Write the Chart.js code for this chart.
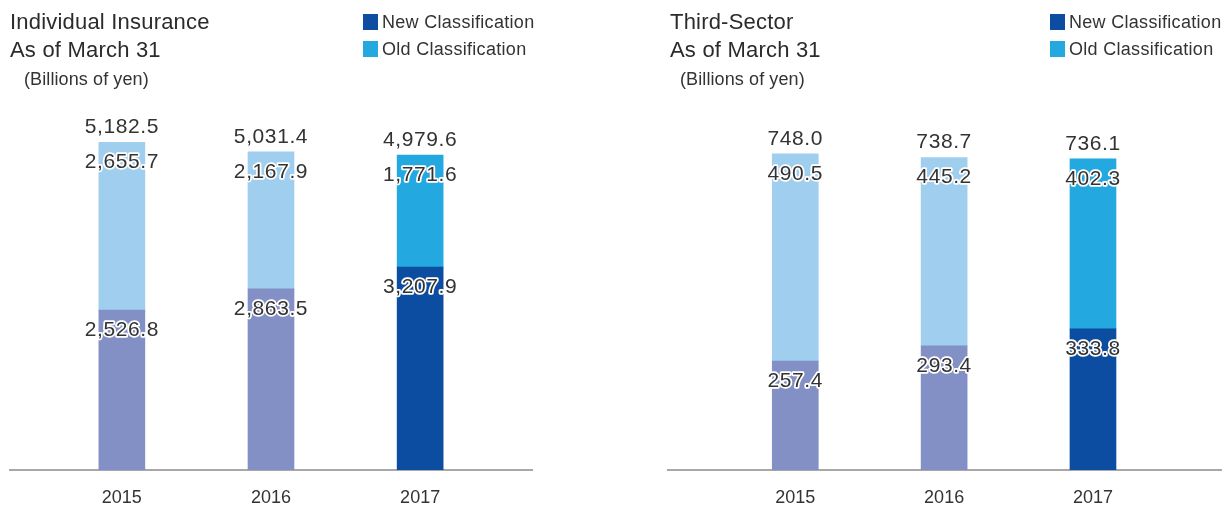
<!DOCTYPE html>
<html>
<head>
<meta charset="utf-8">
<script src="https://cdn.jsdelivr.net/npm/chart.js@4/dist/chart.umd.min.js"></script>
<style>
  html, body { margin: 0; padding: 0; background: #fff; }
  body { width: 1224px; height: 506px; position: relative; overflow: hidden;
         font-family: "Liberation Sans", Arial, sans-serif; color: #333; }
  .panel { position: absolute; top: 0; height: 506px; overflow: hidden; }
  .panel canvas { position: absolute; left: 0; top: 0; }
  .title { position: absolute; font-size: 22px; line-height: 28px; letter-spacing: 0.2px; color: #2b2b2b; white-space: nowrap; z-index: 2; }
  .unit { position: absolute; font-size: 18px; letter-spacing: 0.1px; color: #333; white-space: nowrap; z-index: 2; }
  .legend { position: absolute; font-size: 18px; letter-spacing: 0.3px; color: #333; white-space: nowrap; z-index: 2; }
  .legend div { height: 27px; line-height: 27px; position: relative; padding-left: 19px; }
  .legend span { position: absolute; left: 0; top: 5px; width: 15px; height: 16px; }
</style>
</head>
<body>
<div class="panel" id="p1" style="left:0;width:560px;">
  <div class="title" style="left:10px;top:8px;">Individual Insurance<br>As of March 31</div>
  <div class="unit" style="left:24px;top:69px;">(Billions of yen)</div>
  <div class="legend" style="left:363px;top:9px;">
    <div><span style="background:#0D4DA1"></span>New Classification</div>
    <div><span style="background:#23A8E0"></span>Old Classification</div>
  </div>
  <canvas id="c1" width="560" height="526"></canvas>
</div>
<div class="panel" id="p2" style="left:660px;width:564px;">
  <div class="title" style="left:10px;top:8px;">Third-Sector<br>As of March 31</div>
  <div class="unit" style="left:20px;top:69px;">(Billions of yen)</div>
  <div class="legend" style="left:390px;top:9px;">
    <div><span style="background:#0D4DA1"></span>New Classification</div>
    <div><span style="background:#23A8E0"></span>Old Classification</div>
  </div>
  <canvas id="c2" width="564" height="526"></canvas>
</div>
<script>
// ---- data ----
const years = ['2015', '2016', '2017'];
const indivLower = [2526.8, 2863.5, 3207.9];
const indivUpper = [2655.7, 2167.9, 1771.6];
const indivTotal = [5182.5, 5031.4, 4979.6];
const thirdLower = [257.4, 293.4, 333.8];
const thirdUpper = [490.5, 445.2, 402.3];
const thirdTotal = [748.0, 738.7, 736.1];

const lowerColors = ['#8390C6', '#8390C6', '#0D4DA1'];
const upperColors = ['#A0CEEE', '#A0CEEE', '#23A8E0'];

function fmt(v) {
  return v.toLocaleString('en-US', { minimumFractionDigits: 1, maximumFractionDigits: 1 });
}

const labelPlugin = {
  id: 'valueLabels',
  afterDatasetsDraw(chart, args, opts) {
    const ctx = chart.ctx;
    ctx.save();
    ctx.font = '21px "Liberation Sans", Arial, sans-serif';
    ctx.letterSpacing = '0.6px';
    ctx.textAlign = 'center';
    ctx.textBaseline = 'middle';
    ctx.lineJoin = 'round';
    opts.segments.forEach((vals, di) => {
      const meta = chart.getDatasetMeta(di);
      meta.data.forEach((el, i) => {
        const txt = fmt(vals[i]);
        const y = el.y + 20;
        ctx.strokeStyle = '#fff';
        ctx.lineWidth = 3.5;
        ctx.strokeText(txt, el.x, y);
        ctx.fillStyle = '#333';
        ctx.fillText(txt, el.x, y);
      });
    });
    const topMeta = chart.getDatasetMeta(chart.data.datasets.length - 1);
    topMeta.data.forEach((el, i) => {
      ctx.fillStyle = '#333';
      ctx.fillText(fmt(opts.totals[i]), el.x, el.y - 15);
    });
    ctx.restore();
  }
};

function makeChart(id, lower, upper, totals, yMax, xMin, xMax, padL, padR) {
  new Chart(document.getElementById(id), {
    type: 'bar',
    data: {
      datasets: [
        { label: 'lower', data: years.map((y, i) => ({ x: i + 1, y: lower[i] })),
          backgroundColor: lowerColors, barThickness: 46 },
        { label: 'upper', data: years.map((y, i) => ({ x: i + 1, y: upper[i] })),
          backgroundColor: upperColors, barThickness: 46 }
      ]
    },
    options: {
      responsive: false,
      animation: false,
      layout: { padding: { top: 100, left: padL, right: padR, bottom: 0 } },
      plugins: {
        legend: { display: false },
        tooltip: { enabled: false },
        valueLabels: { totals: totals, segments: [lower, upper] }
      },
      scales: {
        x: {
          type: 'linear', stacked: true, min: xMin, max: xMax, offset: false,
          grid: { display: false, drawTicks: false },
          border: { display: true, color: '#A8A8A8', width: 2 },
          afterBuildTicks: s => { s.ticks = years.map((y, i) => ({ value: i + 1 })); },
          ticks: {
            autoSkip: false, maxRotation: 0, padding: 19, color: '#333',
            font: { family: '"Liberation Sans", Arial, sans-serif', size: 18, lineHeight: 1 },
            callback: v => years[Math.round(v) - 1] || ''
          }
        },
        y: { stacked: true, display: false, min: 0, max: yMax }
      }
    },
    plugins: [labelPlugin]
  });
}

makeChart('c1', indivLower, indivUpper, indivTotal, 5850, 0.25, 3.75, 10, 28);
makeChart('c2', thirdLower, thirdUpper, thirdTotal, 875, 0.145, 3.86, 8, 3);
</script>
</body>
</html>
